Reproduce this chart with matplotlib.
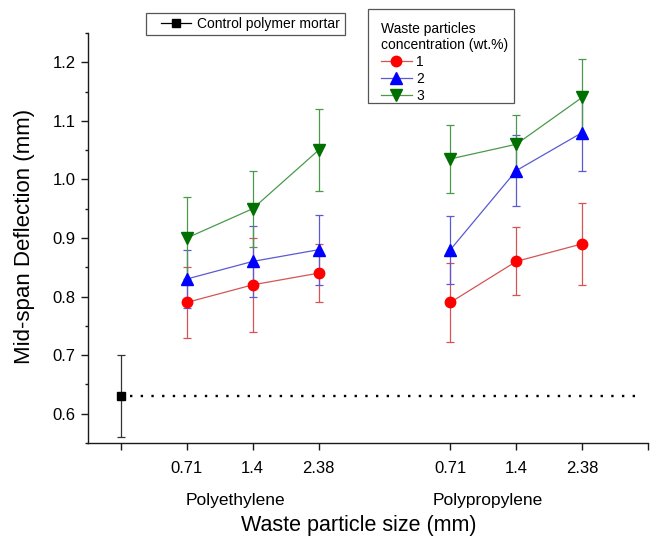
import matplotlib
matplotlib.use("Agg")
import matplotlib.pyplot as plt
from matplotlib.lines import Line2D
from matplotlib.patches import Rectangle
from matplotlib.ticker import MultipleLocator
from matplotlib.transforms import blended_transform_factory

plt.rcParams['font.family'] = ['Liberation Sans', 'DejaVu Sans']
plt.rcParams['lines.scale_dashes'] = False

# ---------------- data ----------------
size_labels = ['0.71', '1.4', '2.38']
materials = ['Polyethylene', 'Polypropylene']
concentrations = ['1', '2', '3']

control_value = 0.63
control_err = 0.07

pe_c1 = [0.79, 0.82, 0.84]
pe_c1_err = [0.06, 0.08, 0.05]
pe_c2 = [0.83, 0.86, 0.88]
pe_c2_err = [0.05, 0.06, 0.06]
pe_c3 = [0.90, 0.95, 1.05]
pe_c3_err = [0.07, 0.065, 0.07]

pp_c1 = [0.79, 0.86, 0.89]
pp_c1_err = [0.067, 0.058, 0.07]
pp_c2 = [0.88, 1.015, 1.08]
pp_c2_err = [0.058, 0.06, 0.066]
pp_c3 = [1.035, 1.06, 1.14]
pp_c3_err = [0.058, 0.05, 0.065]

# ---------------- layout / style ----------------
W, H = 654, 539
fig = plt.figure(figsize=(W / 100, H / 100), dpi=100)
ax = fig.add_axes([88 / W, 1 - 443 / H, 560 / W, 410 / H])

control_x = 0
pe_x = [1, 2, 3]
pp_x = [5, 6, 7]

styles = [
    dict(marker='o', mfc='#ff0000', lc='#d65454', ms=7.5),
    dict(marker='^', mfc='#0000ff', lc='#5a5ad2', ms=8.6),
    dict(marker='v', mfc='#007000', lc='#4a9a4a', ms=8.9),
]

pe_series = [(pe_c1, pe_c1_err), (pe_c2, pe_c2_err), (pe_c3, pe_c3_err)]
pp_series = [(pp_c1, pp_c1_err), (pp_c2, pp_c2_err), (pp_c3, pp_c3_err)]

for xs, series in ((pe_x, pe_series), (pp_x, pp_series)):
    for (vals, errs), st in zip(series, styles):
        ax.errorbar(xs, vals, yerr=errs, color=st['lc'], lw=0.9, elinewidth=0.9,
                    capsize=2.6, capthick=0.9, marker=st['marker'], ms=st['ms'],
                    mfc=st['mfc'], mec=st['mfc'], zorder=3)

# control
ax.errorbar([control_x], [control_value], yerr=[control_err], color='#333333',
            lw=0.9, elinewidth=0.9, capsize=2.6, capthick=0.9, marker='s',
            ms=6, mfc='black', mec='black', zorder=3)
ax.plot([0.13, 7.9], [control_value, control_value], color='black',
        linestyle=(0, (1.7, 6.0)), lw=1.7, dash_capstyle='butt', zorder=2)

# axes
ax.set_xlim(-0.5, 8)
ax.set_ylim(0.55, 1.25)
ax.set_xticks([control_x] + pe_x + pp_x + [8])
ax.set_xticklabels([''] + size_labels + size_labels + [''])
ax.yaxis.set_minor_locator(MultipleLocator(0.05))
ax.set_yticks([0.6, 0.7, 0.8, 0.9, 1.0, 1.1, 1.2])
ax.set_yticklabels(['0.6', '0.7', '0.8', '0.9', '1.0', '1.1', '1.2'])

for side in ('top', 'right'):
    ax.spines[side].set_visible(False)
for side in ('left', 'bottom'):
    ax.spines[side].set_linewidth(1.0)
    ax.spines[side].set_color('#1a1a1a')

ax.tick_params(axis='both', which='major', direction='out', length=5,
               width=1.0, color='#1a1a1a', labelsize=12)
ax.tick_params(axis='y', which='minor', direction='out', length=2.5,
               width=1.0, color='#1a1a1a')
ax.tick_params(axis='x', which='major', pad=8)
ax.tick_params(axis='y', which='major', pad=4)

# group labels
trans = blended_transform_factory(ax.transData, ax.transAxes)
for xpos, name in zip([1.74, 5.57], materials):
    ax.text(xpos, (443 - 501) / 410, name, transform=trans, ha='center',
            va='center', fontsize=12.5)

ax.set_xlabel('Waste particle size (mm)', fontsize=15.5)
ax.xaxis.set_label_coords((359 - 88) / 560, (443 - 525) / 410)
ax.xaxis.label.set_va('center')
ax.set_ylabel('Mid-span Deflection (mm)', fontsize=16)
ax.yaxis.set_label_coords((25 - 88) / 560, 0.505)
ax.yaxis.label.set_va('center')

# legend frames (drawn separately for exact placement)
def px_rect(x0, y0, x1, y1):
    return Rectangle((x0 / W, 1 - y1 / H), (x1 - x0) / W, (y1 - y0) / H,
                     transform=fig.transFigure, fc='white', ec='#555555',
                     lw=0.9, zorder=4)

fig.add_artist(px_rect(146, 13, 345, 35))
fig.add_artist(px_rect(368, 9, 514, 103))

# legends
h_ctrl = Line2D([], [], color='black', lw=0.9, marker='s', ms=6,
                mfc='black', mec='black')
leg1 = fig.legend([h_ctrl], ['Control polymer mortar'], loc='center left',
                  bbox_to_anchor=(161 / W, 1 - 24 / H), bbox_transform=fig.transFigure,
                  borderaxespad=0, borderpad=0, fontsize=10, frameon=False,
                  handlelength=2.16, handletextpad=0.43)
leg1.set_zorder(5)

handles = [Line2D([], [], color=st['lc'], lw=0.9, marker=st['marker'],
                  ms=st['ms'], mfc=st['mfc'], mec=st['mfc']) for st in styles]
leg2 = fig.legend(handles, concentrations, loc='upper left',
                  bbox_to_anchor=(381 / W, 1 - 22 / H), bbox_transform=fig.transFigure,
                  borderaxespad=0, borderpad=0, fontsize=10,
                  title='Waste particles\nconcentration (wt.%)',
                  title_fontsize=10, alignment='left', frameon=False,
                  handlelength=2.2, handletextpad=0.35, labelspacing=0.2)
leg2.set_zorder(5)

fig.savefig('out.png', dpi=100)
